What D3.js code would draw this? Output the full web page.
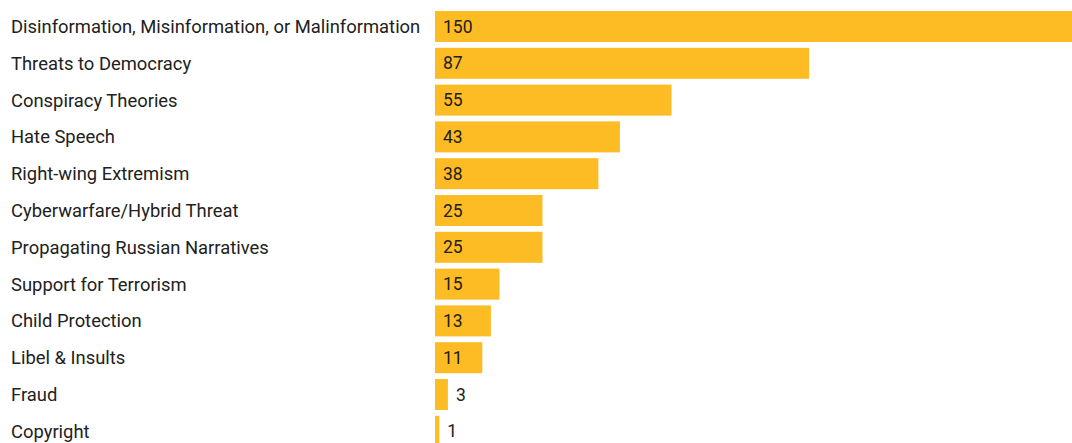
<!DOCTYPE html>
<html>
<head>
<meta charset="utf-8">
<script src="https://cdn.jsdelivr.net/npm/d3@7"></script>
<style>
  html, body { margin: 0; padding: 0; background: #fff; overflow: hidden; }
  svg { display: block; }
  text { font-family: Roboto, "Noto Sans", sans-serif; }
</style>
</head>
<body>
<svg id="chart" width="1072" height="443"></svg>
<script>
// Reported content categories and their case counts
const categories = [
  "Disinformation, Misinformation, or Malinformation",
  "Threats to Democracy",
  "Conspiracy Theories",
  "Hate Speech",
  "Right-wing Extremism",
  "Cyberwarfare/Hybrid Threat",
  "Propagating Russian Narratives",
  "Support for Terrorism",
  "Child Protection",
  "Libel & Insults",
  "Fraud",
  "Copyright"
];
const counts = [150, 87, 55, 43, 38, 25, 25, 15, 13, 11, 3, 1];

const data = categories.map((c, i) => ({ category: c, value: counts[i] }));

const svg = d3.select("#chart");
const barLeft = 435;
const barColor = "#FDBB24";
const textColor = "#212121";

const x = d3.scaleLinear()
  .domain([0, 150])
  .range([barLeft, barLeft + 150 * 4.30]);

const step = 36.8;
const bandPad = 5.8 / step;
const y = d3.scaleBand()
  .domain(categories)
  .range([11, 11 + categories.length * step - 5.8])
  .paddingInner(bandPad)
  .paddingOuter(0);

// Category labels on the left
svg.append("g")
  .selectAll("text")
  .data(data)
  .join("text")
  .attr("x", 11)
  .attr("y", d => y(d.category) + y.bandwidth() / 2)
  .attr("dy", "0.35em")
  .attr("font-size", 18.4)
  .attr("fill", textColor)
  .text(d => d.category);

// Bars
svg.append("g")
  .selectAll("rect")
  .data(data)
  .join("rect")
  .attr("x", x(0))
  .attr("y", d => y(d.category))
  .attr("width", d => x(d.value) - x(0))
  .attr("height", y.bandwidth())
  .attr("fill", barColor);

// Value labels: inside the bar when it fits, otherwise just past its end
const valueLabels = svg.append("g")
  .selectAll("text")
  .data(data)
  .join("text")
  .attr("y", d => y(d.category) + y.bandwidth() / 2)
  .attr("dy", "0.35em")
  .attr("font-size", 17.5)
  .attr("fill", textColor)
  .text(d => d.value);

valueLabels.each(function(d) {
  const w = this.getComputedTextLength();
  const barW = x(d.value) - x(0);
  const inside = w + 16 <= barW;
  d3.select(this).attr("x", inside ? x(0) + 8 : x(d.value) + 8);
});
</script>
</body>
</html>
